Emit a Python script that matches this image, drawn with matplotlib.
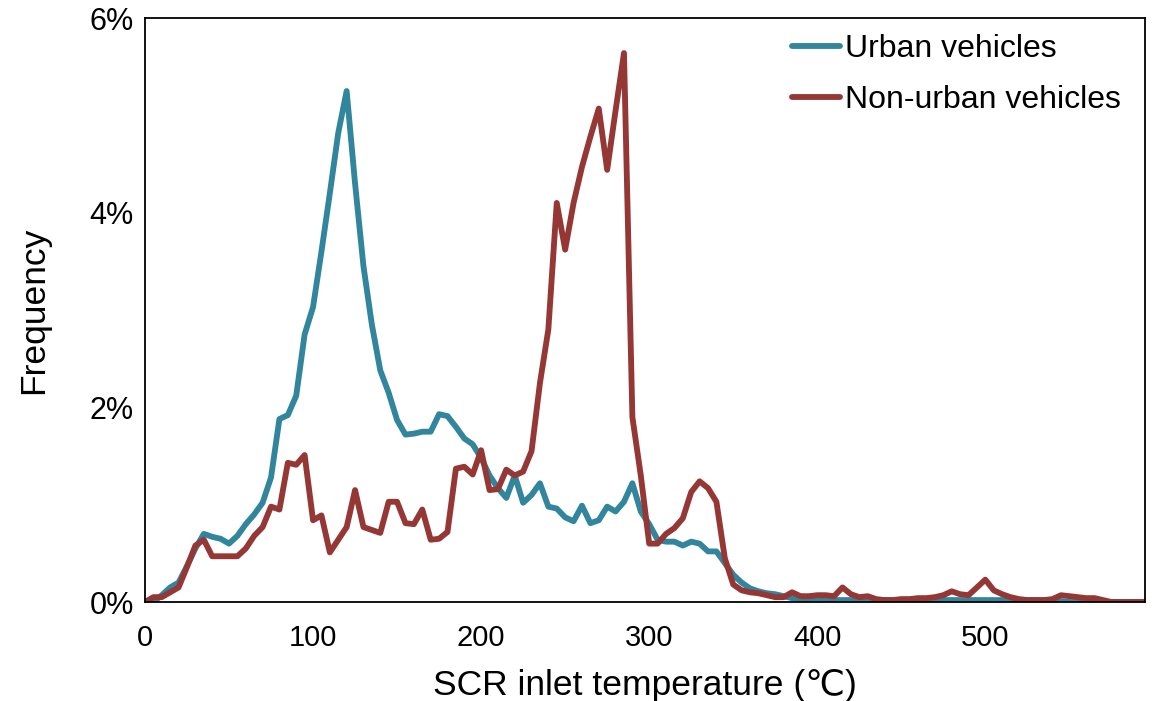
import matplotlib.pyplot as plt
from matplotlib.ticker import FuncFormatter

# SCR inlet temperature bins (deg C), 5-degree steps
temps = list(range(0, 600, 5))

# frequency in %, urban vehicles
urban = [
    0.0, 0.0, 0.07, 0.15, 0.2, 0.37, 0.55, 0.70, 0.67, 0.65,
    0.60, 0.68, 0.80, 0.90, 1.02, 1.28, 1.88, 1.92, 2.12, 2.75,
    3.03, 3.6, 4.2, 4.82, 5.25, 4.3, 3.45, 2.85, 2.38, 2.15,
    1.87, 1.72, 1.73, 1.75, 1.75, 1.93, 1.91, 1.8, 1.68, 1.62,
    1.48, 1.3, 1.17, 1.07, 1.3, 1.02, 1.1, 1.22, 0.98, 0.96,
    0.87, 0.83, 0.99, 0.81, 0.84, 0.98, 0.93, 1.03, 1.22, 0.93,
    0.8, 0.64, 0.62, 0.62, 0.58, 0.62, 0.6, 0.52, 0.52, 0.4,
    0.28, 0.2, 0.14, 0.11, 0.09, 0.08, 0.06, 0.04, 0.03, 0.02,
    0.01, 0.02, 0.02, 0.02, 0.02, 0.01, 0.01, 0.02, 0.02, 0.02,
    0.01, 0.01, 0.01, 0.02, 0.02, 0.02, 0.02, 0.02, 0.02, 0.02,
    0.02, 0.02, 0.02, 0.02, 0.02, 0.02, 0.02, 0.02, 0.01, 0.01,
    0.0, 0.0, 0.0, 0.0, 0.0, 0.0, 0.0, 0.0, 0.0, 0.0,
]

# frequency in %, non-urban vehicles
non_urban = [
    0.0, 0.05, 0.05, 0.1, 0.15, 0.36, 0.58, 0.64, 0.47, 0.47,
    0.47, 0.47, 0.55, 0.68, 0.77, 0.98, 0.95, 1.43, 1.41, 1.51,
    0.84, 0.89, 0.51, 0.64, 0.77, 1.15, 0.77, 0.74, 0.71, 1.03,
    1.03, 0.81, 0.8, 0.95, 0.64, 0.65, 0.72, 1.37, 1.39, 1.31,
    1.56, 1.15, 1.16, 1.36, 1.3, 1.34, 1.55, 2.25, 2.8, 4.1,
    3.62, 4.1, 4.47, 4.78, 5.07, 4.44, 5.05, 5.64, 1.9, 1.3,
    0.6, 0.6, 0.7, 0.76, 0.86, 1.13, 1.24, 1.17, 1.03, 0.45,
    0.18, 0.12, 0.1, 0.09, 0.07, 0.05, 0.05, 0.1, 0.06, 0.06,
    0.07, 0.07, 0.06, 0.15, 0.08, 0.05, 0.06, 0.03, 0.02, 0.02,
    0.03, 0.03, 0.04, 0.04, 0.05, 0.07, 0.11, 0.08, 0.07, 0.15,
    0.23, 0.12, 0.08, 0.05, 0.03, 0.02, 0.02, 0.02, 0.03, 0.07,
    0.06, 0.05, 0.04, 0.04, 0.02, 0.0, 0.0, 0.0, 0.0, 0.0,
]

xticks = [0, 100, 200, 300, 400, 500]
yticks = [0, 2, 4, 6]

plt.rcParams['font.family'] = ['Liberation Sans', 'DejaVu Sans']

fig = plt.figure(figsize=(11.56, 7.01), dpi=100)
ax = fig.add_axes([0.1254, 0.1412, 0.8651, 0.8331])

lw = 4.2
ax.plot(temps, urban, color='#31859C', linewidth=lw, label='Urban vehicles',
        solid_joinstyle='round', solid_capstyle='round')
ax.plot(temps, non_urban, color='#953735', linewidth=lw, label='Non-urban vehicles',
        solid_joinstyle='round', solid_capstyle='round')

ax.set_xlim(0, 595)
ax.set_ylim(0, 6)
ax.set_xticks(xticks)
ax.set_yticks(yticks)
ax.yaxis.set_major_formatter(FuncFormatter(lambda v, p: f"{v:.0f}%"))
ax.tick_params(length=0)
ax.tick_params(axis='y', labelsize=22, pad=8)
ax.tick_params(axis='x', labelsize=21, pad=16)

for s in ax.spines.values():
    s.set_linewidth(1.3)
    s.set_color('black')

ax.set_xlabel('SCR inlet temperature (℃)', fontsize=25.5, labelpad=12)
ax.set_ylabel('Frequency', fontsize=25.5, labelpad=28)

ax.legend(loc='upper right', bbox_to_anchor=(0.992, 1.0), frameon=False,
          fontsize=23, handlelength=1.5, handletextpad=0.15,
          labelspacing=0.65, borderaxespad=0.1)

fig.savefig('out.png', dpi=100)
